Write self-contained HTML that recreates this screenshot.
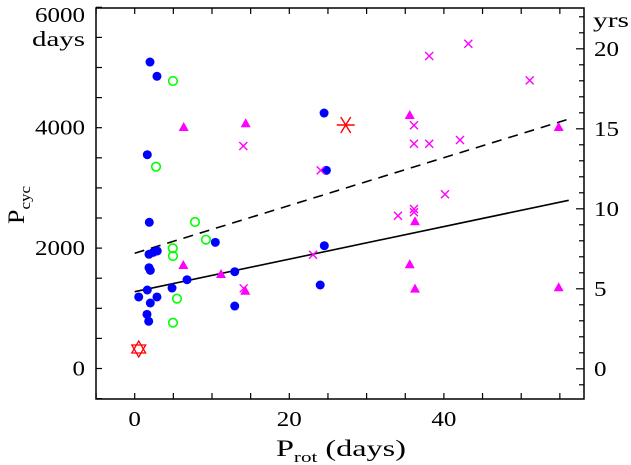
<!DOCTYPE html>
<html><head><meta charset="utf-8"><style>
html,body{margin:0;padding:0;background:#fff;}
svg{display:block;font-family:"Liberation Serif",serif;}
</style></head><body>
<svg id="chart" width="631" height="465" viewBox="0 0 631 465" xmlns="http://www.w3.org/2000/svg">
<g id="axes"></g>
<g id="marks"></g>
<text x="85" y="22" text-anchor="end" font-size="21" textLength="50" lengthAdjust="spacingAndGlyphs">6000</text>
<text x="85" y="46" text-anchor="end" font-size="21" textLength="53" lengthAdjust="spacingAndGlyphs">days</text>
<text x="593" y="27" font-size="21" textLength="36" lengthAdjust="spacingAndGlyphs">yrs</text>
<g transform="translate(24,224) rotate(-90)">
<text x="0" y="0" font-size="23" textLength="38" lengthAdjust="spacingAndGlyphs">P<tspan font-size="15" dy="6">cyc</tspan></text>
</g>
<text x="276" y="456" font-size="23" textLength="130" lengthAdjust="spacingAndGlyphs">P<tspan font-size="15" dy="6">rot</tspan><tspan dy="-6"> (days)</tspan></text>
</svg>
<script>
const blueX=[1.98,2.88,24.5,24.8,1.63,1.89,1.85,2.41,2.92,1.85,2.02,10.43,6.77,12.94,1.63,0.52,2.88,2.02,4.83,1.59,1.81,12.94,24.53,24.0];
const blueY=[5091,4854,4244,3292,3551,2429,1897,1930,1952,1674,1631,2096,1475,1608,1304,1188,1188,1088,1337,900,784,1038,2040,1387];
const greenX=[4.95,2.76,7.8,9.22,4.92,4.95,5.47,4.95];
const greenY=[4776,3352,2434,2140,1997,1869,1160,761];
const triX=[6.34,14.36,6.29,11.16,14.31,35.58,36.26,35.58,36.26,54.85,54.85];
const triY=[4012,4073,1719,1570,1292,4211,2445,1731,1326,4012,1349];
const crossX=[14.05,24.06,23.07,14.1,38.1,43.16,51.1,36.13,36.13,38.1,42.08,40.14,34.06,36.13,36.13];
const crossY=[3696,3292,1890,1332,5191,5395,4787,4040,3734,3734,3796,2894,2538,2650,2595];
const sunX=[27.3]; const sunY=[4045];
const starX=[0.52]; const starY=[324];
const solidFitX=[0,56.15]; const solidFitY=[1276,2794];
const dashFitX=[0,56.2]; const dashFitY=[1914,4145];
const xTickLabels=[0,20,40];
const yTickLabels=[0,2000,4000];
const yrsTickLabels=[0,5,10,15,20];

const L=96,R=584,T=8,B=399;
const xs=d=>134.7+d*7.73;
const ys=p=>368.5-p*0.0602;
const yrs=y=>368.8-y*16;
const NS="http://www.w3.org/2000/svg";
function mk(tag,attrs,parent){const e=document.createElementNS(NS,tag);for(const k in attrs)e.setAttribute(k,attrs[k]);parent.appendChild(e);return e;}
const ax=document.getElementById('axes'),mg=document.getElementById('marks');
const dw=12.5;
let f=mk('rect',{x:L,y:T,width:R-L,height:B-T,fill:'none',stroke:'#000','stroke-width':1.5},ax);


for(let d=-5;d<=55;d+=5){const x=xs(d);
 let t=mk('path',{d:`M${x},${B}v-6M${x},${T}v6`,stroke:'#000','stroke-width':1.2},ax);
 
 }
xTickLabels.forEach(v=>{const s=String(v);let t=mk('text',{x:xs(v),y:426,'text-anchor':'middle','font-size':21,textLength:s.length*dw,lengthAdjust:'spacingAndGlyphs'},ax);t.textContent=s;
 
 });
for(let p=-500;p<=6000;p+=500){const y=ys(p);
 let t=mk('path',{d:`M${L},${y}h6`,stroke:'#000','stroke-width':1.2},ax);
 
 }
yTickLabels.forEach(v=>{const s=String(v);let t=mk('text',{x:85,y:ys(v)+7,'text-anchor':'end','font-size':21,textLength:s.length*dw,lengthAdjust:'spacingAndGlyphs'},ax);t.textContent=s;
 
 });
for(let v=-1;v<=22;v++){const y=yrs(v);
 let t=mk('path',{d:`M${R},${y}h-${v%5===0?8:5}`,stroke:'#000','stroke-width':1.2},ax);
 
 }
yrsTickLabels.forEach(v=>{const s=String(v);let t=mk('text',{x:594,y:yrs(v)+7,'font-size':21,textLength:s.length*dw,lengthAdjust:'spacingAndGlyphs'},ax);t.textContent=s;
 
 });
let sl=mk('line',{x1:xs(solidFitX[0]),y1:ys(solidFitY[0]),x2:xs(solidFitX[1]),y2:ys(solidFitY[1]),stroke:'#000','stroke-width':1.6},mg);


let dl=mk('line',{x1:xs(dashFitX[0]),y1:ys(dashFitY[0]),x2:xs(dashFitX[1]),y2:ys(dashFitY[1]),stroke:'#000','stroke-width':1.6,'stroke-dasharray':'10,7'},mg);


blueX.forEach((d,i)=>{let c=mk('circle',{cx:xs(d),cy:ys(blueY[i]),r:4.5,fill:'#0000ff'},mg);
 
 });
greenX.forEach((d,i)=>{let c=mk('circle',{cx:xs(d),cy:ys(greenY[i]),r:4.3,fill:'none',stroke:'#00ff00','stroke-width':1.6},mg);
 
 });
triX.forEach((d,i)=>{const x=xs(d),y=ys(triY[i]);let c=mk('path',{d:`M${x},${y-5}L${x+5},${y+4}L${x-5},${y+4}Z`,fill:'#ff00ff'},mg);
 
 });
crossX.forEach((d,i)=>{const x=xs(d),y=ys(crossY[i]);let c=mk('path',{d:`M${x-4},${y-4}L${x+4},${y+4}M${x+4},${y-4}L${x-4},${y+4}`,stroke:'#ff00ff','stroke-width':1.4},mg);
 
 });
sunX.forEach((d,i)=>{const x=xs(d),y=ys(sunY[i]);let c=mk('path',{d:`M${x-9},${y}h18M${x-5},${y-8}L${x+5},${y+8}M${x+5},${y-8}L${x-5},${y+8}`,stroke:'#ff0000','stroke-width':1.4},mg);
 
 });
starX.forEach((d,i)=>{const x=xs(d),y=ys(starY[i]);const r=8,h=r*0.866;
 let c=mk('path',{d:`M${x},${y-r}L${x+h},${y+r/2}L${x-h},${y+r/2}ZM${x},${y+r}L${x+h},${y-r/2}L${x-h},${y-r/2}Z`,fill:'#fff',stroke:'#ff0000','stroke-width':1.3},mg);
 
 });
</script>
</body></html>
